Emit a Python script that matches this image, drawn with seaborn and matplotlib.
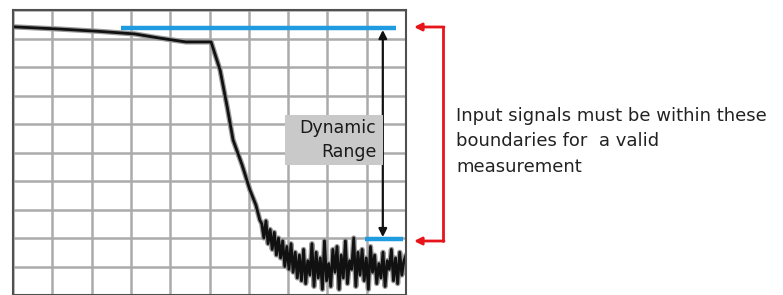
import numpy as np
import pandas as pd
import matplotlib
matplotlib.use("Agg")
import matplotlib.pyplot as plt
import seaborn as sns
from matplotlib.patches import Rectangle

# --- DATA (screen divisions, 10 x 10 graticule) ---
# smooth part of the trace: flat response then the roll-off
trace_x = [0.0, 1.2, 2.2, 3.1, 3.7, 4.4, 5.04, 5.27, 5.45, 5.6, 5.83, 6.03, 6.18, 6.28]
trace_y = [9.41, 9.33, 9.25, 9.16, 9.02, 8.88, 8.88, 7.89, 6.6, 5.44, 4.56, 3.68, 3.16, 2.63]

# noise floor
noise_y = [2.5, 2.0, 2.6, 1.8, 2.3, 1.6, 2.2, 1.4, 2.0, 1.3, 1.9, 1.0, 1.7, 0.9,
           1.8, 0.8, 1.5, 0.6, 1.4, 0.5, 1.6, 0.4, 1.2, 0.7, 1.8, 0.3, 1.5, 0.6,
           1.3, 0.2, 1.9, 0.5, 1.1, 0.3, 1.6, 0.8, 1.7, 0.2, 1.4, 0.6, 1.9, 0.4,
           1.2, 0.9, 2.0, 0.3, 1.5, 0.7, 1.6, 0.5, 1.3, 0.2, 1.7, 0.8, 1.4, 0.4,
           1.1, 0.6, 1.5, 0.3, 1.2, 0.9, 1.6, 0.5, 1.3, 0.4, 1.5, 0.7, 1.2, 1.4]
noise_x = np.linspace(6.33, 10.0, len(noise_y))

top_level = 9.38      # max input level (blue)
top_span = [2.75, 9.75]
bottom_level = 1.95   # noise floor level (blue)
bottom_span = [8.96, 9.92]

label_box = "Dynamic\nRange"
note = "Input signals must be within these\nboundaries for  a valid\nmeasurement"

df = pd.DataFrame({
    "x": list(trace_x) + list(noise_x),
    "y": list(trace_y) + list(noise_y),
})

# --- FIGURE ---
sns.set_style("white")
fig = plt.figure(figsize=(7.83, 2.95), dpi=100)
ax = fig.add_axes([13 / 783, 0, 393 / 783, 285 / 295])
ax.set_xlim(0, 10)
ax.set_ylim(0, 10)

# graticule
ax.set_xticks(range(11))
ax.set_yticks(range(11))
ax.grid(True, color="#ababab", linewidth=1.8)
ax.tick_params(length=0, labelbottom=False, labelleft=False)
for s in ax.spines.values():
    s.set_color("#505050")
    s.set_linewidth(1.5)

# trace with a soft grey halo
sns.lineplot(data=df, x="x", y="y", ax=ax, color="#9a9a9a", linewidth=3.8,
             sort=False, estimator=None)
sns.lineplot(data=df, x="x", y="y", ax=ax, color="#111111", linewidth=2.0,
             sort=False, estimator=None)
ax.set_xlabel("")
ax.set_ylabel("")

# blue limit lines
ax.plot(top_span, [top_level, top_level], color="#1f9be0", linewidth=3.2,
        solid_capstyle="butt")
ax.plot(bottom_span, [bottom_level, bottom_level], color="#1f9be0", linewidth=3.2,
        solid_capstyle="butt")

# dynamic range arrow
ax.annotate("", xy=(9.41, top_level - 0.08), xytext=(9.41, bottom_level + 0.08),
            arrowprops=dict(arrowstyle="<|-|>", color="#111111", lw=1.6,
                            mutation_scale=12, shrinkA=0, shrinkB=0))

# label box
ax.add_patch(Rectangle((6.92, 4.56), 9.41 - 6.92, 6.32 - 4.56,
                       facecolor="#c9c9c9", edgecolor="none", zorder=3))
ax.text(9.24, 5.45, label_box, ha="right", va="center", fontsize=12.5,
        color="#1a1a1a", linespacing=1.45, zorder=4, family="DejaVu Sans")

# red bracket outside the screen (figure pixels, origin bottom-left)
red = "#e8141b"
fig.add_artist(plt.Line2D([443, 443], [295 - 27, 295 - 241], color=red, lw=2,
                          transform=None))
for yy in (295 - 27, 295 - 241):
    ax.annotate("", xy=(414, yy), xytext=(444, yy), xycoords="figure pixels",
                textcoords="figure pixels", annotation_clip=False,
                arrowprops=dict(arrowstyle="-|>", color=red, lw=2,
                                mutation_scale=11, shrinkA=0, shrinkB=0))

fig.text(456 / 783, 1 - 107 / 295, note, ha="left", va="top", fontsize=13,
         color="#222222", linespacing=1.52, family="DejaVu Sans")

fig.savefig("out.png", dpi=100)
